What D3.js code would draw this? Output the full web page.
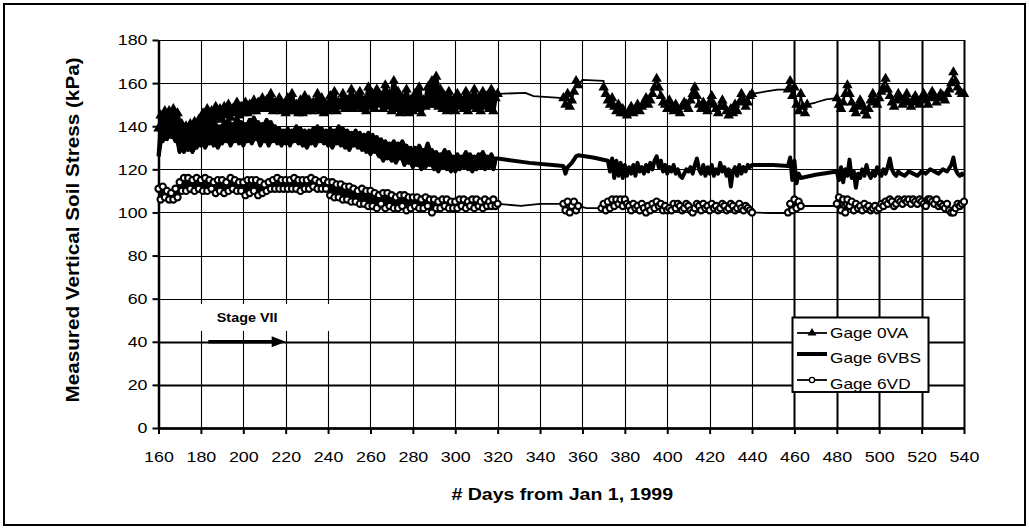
<!DOCTYPE html>
<html><head><meta charset="utf-8">
<script src="https://cdn.jsdelivr.net/npm/d3@7"></script>
<style>
body{margin:0;background:#fff}
svg{display:block}
text{font-family:"Liberation Sans",Arial,sans-serif;fill:#000}
</style>
</head><body>
<svg id="chart" width="1029" height="529"></svg>
<script>
// ---------------- DATA ----------------
const xTicks = [160,180,200,220,240,260,280,300,320,340,360,380,400,420,440,460,480,500,520,540];
const yTicks = [0,20,40,60,80,100,120,140,160,180];
const xTitle = "# Days from Jan 1, 1999";
const yTitle = "Measured Vertical Soil Stress (kPa)";
const seriesNames = ["Gage 0VA","Gage 6VBS","Gage 6VD"];
const stageLabel = "Stage VII";
const stageArrow = {fromDay:183.5, toDay:220, level:40, labelDay:187.5};

// Gage 0VA (daily readings, days 160-320)
const va1 = [
139,145,141,147,142,147,141,148,140,146,
137,141,136,140,136,141,137,142,138,143,
140,146,141,148,142,147,143,149,144,148,
143,149,145,150,144,148,146,151,145,149,
146,151,146,150,147,152,147,151,148,153,
148,152,148,155,147,151,148,153,147,150,
146,153,147,155,147,150,146,152,146,154,
147,152,147,151,148,155,147,153,146,150,
147,154,148,156,147,151,149,155,148,152,
148,157,148,153,149,156,148,152,147,158,
149,155,148,157,150,154,148,159,149,155,
147,161,148,156,146,153,147,157,146,152,
147,155,148,158,146,152,149,158,150,161,
150,163,149,157,148,154,147,156,148,152,
147,155,149,152,148,156,147,153,149,157,
148,153,147,156,149,154,148,157,147,153,
155];
const vaGapADays = [320,333,337,351];
const vaGapAVals = [155,155.5,154,153];
const va2 = [153,150,155,149,152,156,161,159];            // days 351-358
const vaGapBDays = [358,360,370];
const vaGapBVals = [159,161.5,161];
const va3 = [                                            // days 370-440
158,155,152,150,153,149,147,150,146,148,
146,145,147,149,146,148,150,147,149,151,
153,150,152,155,158,162,158,154,151,150,
148,152,149,147,150,148,146,149,151,150,
148,152,155,158,154,150,148,151,149,147,
151,154,150,148,146,149,152,149,147,145,
148,146,150,147,151,155,152,149,151,154,155];
const vaGapCDays = [440,446,452,457];
const vaGapCVals = [155,156,157,157];
const va4 = [157,161,154,158,150,147,155,149,146,150];    // days 457-466
const vaGapDDays = [466,470,475,480];
const vaGapDVals = [150,151,152.5,153];
const va5 = [                                            // days 480-540
153,150,148,151,155,159,155,151,148,146,
149,152,150,147,145,148,152,155,151,150,
153,156,158,162,157,154,151,149,152,155,
153,150,152,155,151,149,152,154,151,150,
153,155,152,150,153,156,154,151,153,155,
154,152,155,157,160,165,161,158,156,155,
155];

// Gage 6VBS (daily readings, days 160-320)
const vbs1 = [
126,139,133,141,134,142,135,141,133,140,
128,137,128,138,129,136,128,137,130,139,
131,141,130,142,132,143,131,141,130,140,
132,142,133,143,131,141,133,144,132,142,
131,141,133,143,132,144,134,142,131,141,
133,143,131,142,133,140,132,139,131,138,
132,139,131,138,133,140,132,139,131,138,
130,138,132,139,131,140,133,139,132,138,
131,139,130,138,132,140,131,139,130,138,
129,137,131,138,130,137,129,136,128,137,
127,136,128,135,126,134,124,133,125,132,
124,133,123,132,125,133,122,131,123,130,
121,130,122,131,120,129,121,132,122,129,
120,128,119,127,121,129,120,128,119,126,
119,127,120,126,121,128,120,127,119,126,
120,127,121,128,120,126,121,127,120,125,
125];
// Gage 6VBS (days 320-540)
const vbs2Days = [320,335,351,352,353,355,357,358,365,372,373,374,375,376,377,378,379,380,381,382,383,384,385,386,387,388,389,390,391,392,393,394,395,396,397,398,399,400,401,402,403,404,405,406,407,408,409,410,411,412,413,414,415,416,417,418,419,420,421,422,423,424,425,426,427,428,429,430,431,432,433,434,435,436,437,438,439,440,450,457,458,459,460,461,462,463,470,480,481,482,483,484,485,486,487,488,489,490,491,492,493,494,495,496,497,498,499,500,501,502,503,504,505,506,507,508,509,510,512,514,516,518,520,522,524,526,528,530,532,534,535,536,537,538,539,540];
const vbs2Vals = [125,123,121.5,118,121,123,126,126.5,125.5,124,119,125,116,124,117,123,116,122,117,121,118,122,117,123,119,121,118,122,119,123,120,124,126,121,124,119,122,118,121,119,122,118,120,117,116,118,120,119,121,118,122,125,120,118,122,117,121,118,122,117,120,118,123,119,121,117,120,112,119,121,117,122,118,121,119,122,121,122,122,121.5,125.5,115,124,113.5,118,116,117.5,119,115,121,114,120,117,124.5,116,119,111.5,118,116,120,117,122,118,116,119,117,121,118,117,120,118,121,125,120,118,117,119,118,117,119,118,117,119,118,120,119,118,120,119,122,125.5,120,118,117,118,117];

// Gage 6VD (daily readings, days 160-320)
const vd1 = [
111,106,112,107,110,106,109,106,111,107,
114,110,116,110,116,111,115,110,116,111,
115,110,116,110,115,111,114,109,115,110,
115,109,114,110,116,111,115,110,114,110,
114,108,115,109,115,110,115,108,114,109,
113,110,114,111,115,111,116,111,115,111,
115,111,115,111,116,111,115,110,115,111,
115,111,116,112,115,111,114,111,115,111,
114,108,114,107,113,107,113,106,112,106,
112,105,111,105,110,104,111,104,110,103,
110,103,109,102,108,104,109,102,109,103,
108,102,107,102,108,103,108,101,107,102,
107,103,107,102,106,102,107,103,106,100,
106,102,105,102,106,103,106,102,105,102,
105,102,106,103,106,102,105,103,106,102,
106,103,105,102,106,103,105,103,106,103,
104];
const vdGapADays = [320,331,340,351];
const vdGapAVals = [104,103,104,104];
const vd2 = [104,101,105,100,103,105,101,103];              // days 351-358
const vdGapBDays = [358,362,369];
const vdGapBVals = [103,102,102];
const vd3 = [                                               // days 369-440
102,104,101,105,102,106,103,106,104,106,
103,106,104,103,101,104,102,103,101,104,
102,100,103,101,104,102,105,103,104,101,
103,101,102,101,104,102,104,103,101,102,
104,103,101,100,102,104,103,101,104,102,
103,101,104,102,103,101,102,104,103,101,
102,104,103,101,102,104,102,101,103,102,
101,100];
const vdGapCDays = [440,449,457];
const vdGapCVals = [100,99.7,99.7];
const vd4 = [100,104,101,106,102,105,103];                  // days 457-463
const vdGapDDays = [463,480];
const vdGapDVals = [103,103];
const vd5 = [                                               // days 480-540
104,107,101,106,100,106,103,105,101,104,
102,103,101,104,102,103,101,102,103,101,
102,104,103,105,104,106,105,103,104,106,
105,104,106,105,106,104,106,105,104,106,
105,104,103,106,106,105,104,106,103,104,
103,102,104,101,100,100,102,104,103,104,
105];

// ---------------- BUILD ----------------
const seq = (start, vals) => vals.map((v,i)=>({d:start+i, v, m:true}));
const pts = (days, vals) => days.map((d,i)=>({d, v:vals[i], m:false}));

const vaDense = seq(160,va1), vbsDense = seq(160,vbs1), vdDense = seq(160,vd1);
const vaPts = [].concat(vaDense, pts(vaGapADays,vaGapAVals), seq(351,va2),
  pts(vaGapBDays,vaGapBVals), seq(370,va3), pts(vaGapCDays,vaGapCVals), seq(457,va4),
  pts(vaGapDDays,vaGapDVals), seq(480,va5));
const vbsPts = [].concat(vbsDense, pts(vbs2Days,vbs2Vals));
const vdPts = [].concat(vdDense, pts(vdGapADays,vdGapAVals), seq(351,vd2),
  pts(vdGapBDays,vdGapBVals), seq(369,vd3), pts(vdGapCDays,vdGapCVals), seq(457,vd4),
  pts(vdGapDDays,vdGapDVals), seq(480,vd5));

// local range of the dense (sub-daily) readings, i.e. the band the plotted points fill
const band = seg => seg.map((p,i)=>{
  const a = seg[Math.max(0,i-1)], b = seg[Math.min(seg.length-1,i+1)];
  return {d:p.d, lo:Math.min(a.v,p.v,b.v), hi:Math.max(a.v,p.v,b.v)};
});

const svg = d3.select("#chart");
const STRETCH = 1.15;

// outer frame
svg.append("rect").attr("x",4).attr("y",4).attr("width",1021).attr("height",521)
  .attr("fill","#fff").attr("stroke","#000").attr("stroke-width",2);

const x = d3.scaleLinear().domain([160,540]).range([158.5,964]);
const y = d3.scaleLinear().domain([0,180]).range([428,40]);

const thickY = new Set([0,20,40]);
const thickX = new Set([460,480,500,520,540]);

// grid
const grid = svg.append("g");
grid.selectAll("line.h").data(yTicks).join("line")
  .attr("x1",x(160)).attr("x2",x(540))
  .attr("y1",d=>Math.round(y(d))+0.5).attr("y2",d=>Math.round(y(d))+0.5)
  .attr("stroke","#000").attr("stroke-width",d=>thickY.has(d)?2:1.1);
grid.selectAll("line.v").data(xTicks.filter(d=>d>160)).join("line")
  .attr("y1",y(0)).attr("y2",y(180))
  .attr("x1",d=>Math.round(x(d))+0.5).attr("x2",d=>Math.round(x(d))+0.5)
  .attr("stroke","#000").attr("stroke-width",d=>thickX.has(d)?2:1.1);

// stage annotation white patch
svg.append("rect").attr("x",x(178)).attr("y",304).attr("width",x(242)-x(178)).attr("height",27).attr("fill","#fff");

// axes
const yAxis = svg.append("g").attr("transform",`translate(${x(160)},0)`)
  .call(d3.axisLeft(y).tickValues(yTicks).tickSize(6).tickSizeOuter(0).tickPadding(5));
const xAxis = svg.append("g").attr("transform",`translate(0,${y(0)})`)
  .call(d3.axisBottom(x).tickValues(xTicks).tickSize(6).tickSizeOuter(0).tickPadding(17).tickFormat(d3.format("d")));
[yAxis,xAxis].forEach(a=>{
  a.select(".domain").attr("stroke","#000").attr("stroke-width",2.5);
  a.selectAll(".tick line").attr("stroke","#000").attr("stroke-width",2);
  a.selectAll(".tick text").attr("font-size",15.5).attr("font-family","'Liberation Sans',Arial,sans-serif").attr("fill","#000").classed("st",true);
});

// series
const line = d3.line().x(p=>x(p.d)).y(p=>y(p.v));
const area = d3.area().x(p=>x(p.d)).y0(p=>y(p.lo)).y1(p=>y(p.hi));

// Gage 0VA
svg.append("path").datum(band(vaDense)).attr("d",area).attr("fill","#000");
svg.append("path").datum(vaPts).attr("d",line).attr("fill","none").attr("stroke","#000").attr("stroke-width",1.8).attr("stroke-linejoin","round");
svg.append("g").selectAll("path").data(vaPts.filter(p=>p.m)).join("path")
  .attr("transform",p=>`translate(${x(p.d)},${y(p.v)})`)
  .attr("d",d3.symbol(d3.symbolTriangle,48)).attr("fill","#000");

// Gage 6VBS
svg.append("path").datum(band(vbsDense)).attr("d",area).attr("fill","#000");
svg.append("path").datum(vbsPts).attr("d",line).attr("fill","none").attr("stroke","#000").attr("stroke-width",4).attr("stroke-linejoin","round");

// Gage 6VD
svg.append("path").datum(band(vdDense)).attr("d",area).attr("fill","#000");
svg.append("path").datum(vdPts).attr("d",line).attr("fill","none").attr("stroke","#000").attr("stroke-width",1.8).attr("stroke-linejoin","round");
svg.append("g").selectAll("circle").data(vdPts.filter(p=>p.m)).join("circle")
  .attr("cx",p=>x(p.d)).attr("cy",p=>y(p.v)).attr("r",3.1)
  .attr("fill","#fff").attr("stroke","#000").attr("stroke-width",2.1);

// stage annotation
svg.append("text").attr("x",x(stageArrow.labelDay)).attr("y",321.5)
  .attr("font-size",12.5).attr("font-weight","bold").classed("st",true).text(stageLabel);
const ay = y(stageArrow.level);
svg.append("line").attr("x1",x(stageArrow.fromDay)).attr("x2",x(stageArrow.toDay)-12)
  .attr("y1",ay).attr("y2",ay).attr("stroke","#000").attr("stroke-width",3.5);
const tip = x(stageArrow.toDay);
svg.append("path").attr("d",`M${tip},${ay}L${tip-14},${ay-5.5}L${tip-14},${ay+5.5}Z`).attr("fill","#000");

// titles
svg.append("text").attr("x",(x(160)+x(540))/2+1).attr("y",500)
  .attr("text-anchor","middle").attr("font-size",17).attr("font-weight","bold").classed("st",true).text(xTitle);
svg.append("text").attr("transform","translate(79,230) rotate(-90)")
  .attr("text-anchor","middle").attr("font-size",18).attr("font-weight","bold").classed("st",true).text(yTitle);

// legend
const lg = svg.append("g");
svg.append("clipPath").attr("id","lgclip").append("rect").attr("x",792).attr("y",317).attr("width",137).attr("height",75);
lg.append("rect").attr("x",792.5).attr("y",317.5).attr("width",136).attr("height",74.5)
  .attr("fill","#fff").attr("stroke","#000").attr("stroke-width",1.6);
const rows = [333,354,380];
const baselines = [337.5,363,389];
const lgc = lg.append("g").attr("clip-path","url(#lgclip)");
seriesNames.forEach((n,i)=>{
  lgc.append("line").attr("x1",797).attr("x2",827).attr("y1",rows[i]).attr("y2",rows[i])
    .attr("stroke","#000").attr("stroke-width",i===1?4:1.8);
  lgc.append("text").attr("x",830).attr("y",baselines[i]).attr("font-size",15).classed("st",true).text(n);
});
lgc.append("path").attr("transform",`translate(812,${rows[0]})`).attr("d",d3.symbol(d3.symbolTriangle,34)).attr("fill","#000");
lgc.append("circle").attr("cx",812).attr("cy",rows[2]).attr("r",2.6).attr("fill","#fff").attr("stroke","#000").attr("stroke-width",1.3);
lg.append("rect").attr("x",792.5).attr("y",317.5).attr("width",136).attr("height",74.5)
  .attr("fill","none").attr("stroke","#000").attr("stroke-width",1.6);

// horizontal stretch of text to match the reference rendering
svg.selectAll("text.st").each(function(){
  const w = this.getComputedTextLength();
  this.setAttribute("textLength", (w*STRETCH).toFixed(1));
  this.setAttribute("lengthAdjust","spacingAndGlyphs");
});
</script>
</body></html>
